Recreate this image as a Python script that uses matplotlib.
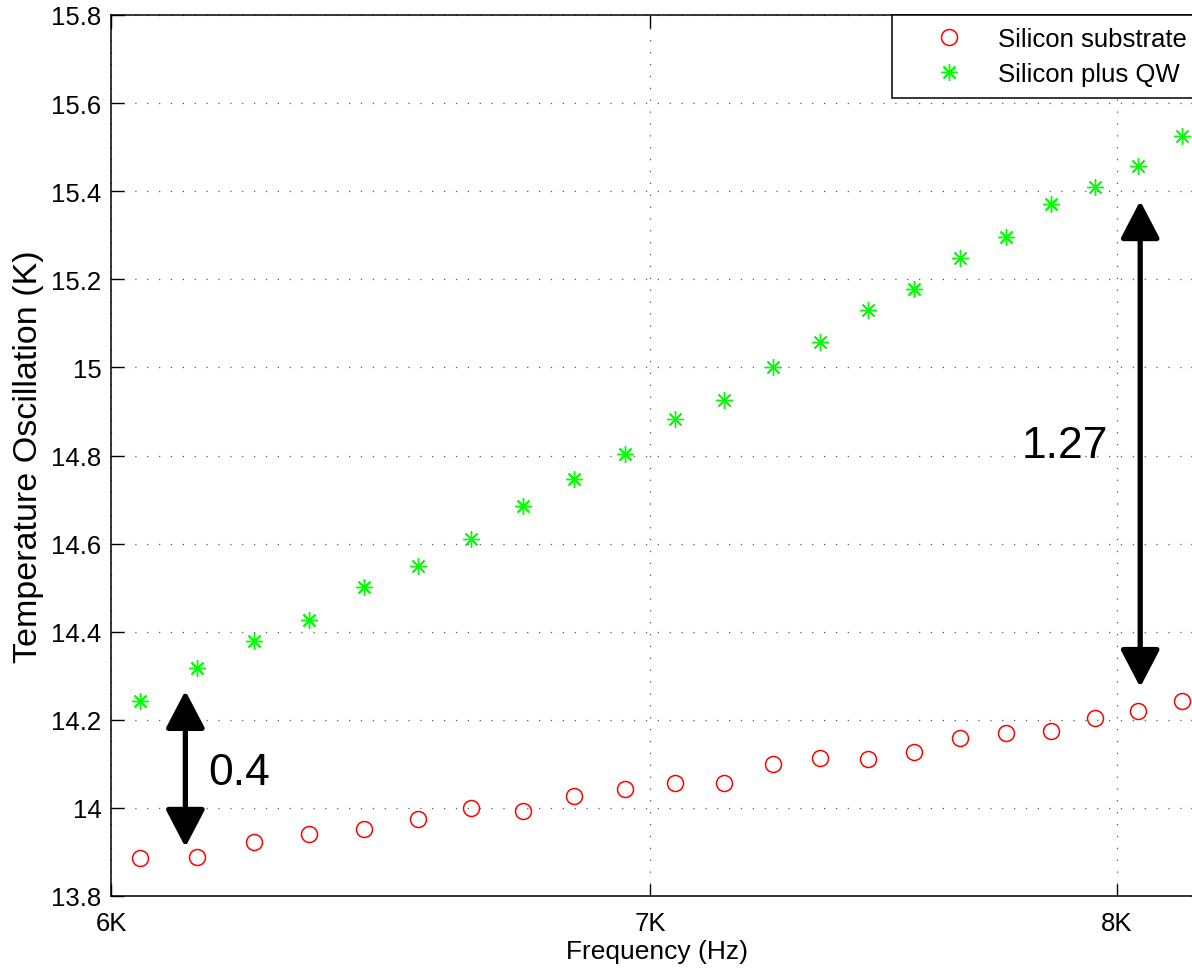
import numpy as np
import matplotlib.pyplot as plt
from matplotlib.ticker import FixedLocator, FuncFormatter, NullLocator

plt.rcParams['font.family'] = ['Liberation Sans', 'DejaVu Sans']

# measured temperature oscillation amplitude vs. drive frequency
freq = [6050, 6150, 6250, 6350, 6450, 6550, 6650, 6750, 6850, 6950, 7050,
        7150, 7250, 7350, 7450, 7550, 7650, 7750, 7850, 7950, 8050, 8150]
t_substrate = [13.886, 13.889, 13.922, 13.941, 13.952, 13.974, 13.999, 13.994,
               14.026, 14.042, 14.057, 14.057, 14.100, 14.113, 14.111, 14.127,
               14.159, 14.171, 14.175, 14.204, 14.220, 14.243]
t_qw = [14.243, 14.318, 14.378, 14.427, 14.501, 14.549, 14.610, 14.686,
        14.746, 14.803, 14.883, 14.925, 15.002, 15.057, 15.130, 15.178,
        15.248, 15.296, 15.370, 15.410, 15.458, 15.525]

x_ticks = [6000, 7000, 8000]
x_labels = ['6K', '7K', '8K']
y_ticks = np.round(np.arange(13.8, 15.81, 0.2), 1)

fig = plt.figure(figsize=(11.92, 9.70), dpi=100)
# right edge of the axes runs past the figure edge on purpose
ax = fig.add_axes([111 / 1192, 73 / 970, 1092 / 1192, 881 / 970])

ax.plot(freq, t_substrate, linestyle='none', marker='o', markersize=11.5,
        markerfacecolor='none', markeredgecolor='red', markeredgewidth=1.1,
        label='Silicon substrate')
ax.plot(freq, t_qw, linestyle='none', marker=(8, 2, 0), markersize=12,
        markeredgecolor=(0, 1, 0), markerfacecolor=(0, 1, 0), markeredgewidth=1.0,
        label='Silicon plus QW')

ax.set_xscale('log')
ax.set_xlim(6000, 8200)
ax.set_ylim(13.8, 15.8)
ax.xaxis.set_major_locator(FixedLocator(x_ticks))
ax.xaxis.set_minor_locator(NullLocator())
ax.set_xticklabels(x_labels)
ax.set_yticks(y_ticks)
ax.yaxis.set_major_formatter(FuncFormatter(lambda v, p: '%g' % round(v, 1)))

ax.tick_params(axis='both', which='major', direction='in', length=9, width=1,
               labelsize=18.5, top=True, right=True)
ax.tick_params(axis='x', pad=11)
ax.tick_params(axis='y', pad=7)
ax.grid(True, linestyle=(0, (1, 8.5)), color='#555555', linewidth=0.9)
for s in ax.spines.values():
    s.set_linewidth(1.1)

ax.set_xlabel('Frequency (Hz)', fontsize=19, labelpad=3)
ax.set_ylabel('Temperature Oscillation (K)', fontsize=24.5, labelpad=5)

# gap markers between the two curves
arrow = dict(arrowstyle='<|-|>,head_length=1.15,head_width=0.6', color='black',
             lw=3.8, mutation_scale=20, shrinkA=0, shrinkB=0)
ax.annotate('', xy=(6129, 14.266), xytext=(6129, 13.911), arrowprops=arrow)
ax.annotate('', xy=(8054, 15.378), xytext=(8054, 14.274), arrowprops=arrow)
ax.text(6169, 14.081, '0.4', fontsize=32, ha='left', va='center')
ax.text(7981, 14.822, '1.27', fontsize=32, ha='right', va='center')

leg = ax.legend(loc='upper left', bbox_to_anchor=(0.715, 1.0), borderaxespad=0,
                fontsize=18.5, frameon=True, fancybox=False, framealpha=1,
                edgecolor='black', handletextpad=0.15, handlelength=3.55,
                borderpad=0.45, labelspacing=0.45)
leg.get_frame().set_linewidth(1.1)

fig.savefig('out.png', dpi=100)
